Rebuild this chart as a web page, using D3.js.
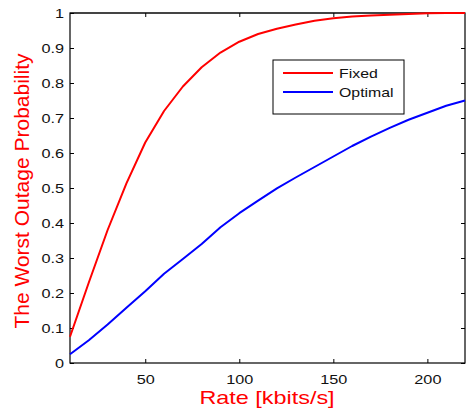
<!DOCTYPE html>
<html>
<head>
<meta charset="utf-8">
<script src="https://cdn.jsdelivr.net/npm/d3@7"></script>
<style>
  html, body { margin: 0; padding: 0; background: #fff; }
  svg { display: block; font-family: "Liberation Sans", Arial, sans-serif; }
</style>
</head>
<body>
<svg id="chart" width="467" height="412"></svg>
<script>
// Rate grid (kbits/s)
const rates = [10, 20, 30, 40, 50, 60, 70, 80, 90, 100, 110, 120, 130, 140, 150, 160, 170, 180, 190, 200, 210, 220];
// Worst outage probability, fixed allocation
const fixedOutage = [0.075, 0.23, 0.38, 0.513, 0.63, 0.72, 0.79, 0.845, 0.887, 0.918, 0.94, 0.955, 0.967, 0.978, 0.985, 0.99, 0.993, 0.995, 0.997, 0.999, 1.0, 1.0];
// Worst outage probability, optimal allocation
const optimalOutage = [0.025, 0.065, 0.11, 0.158, 0.205, 0.255, 0.297, 0.34, 0.388, 0.428, 0.464, 0.499, 0.53, 0.56, 0.59, 0.62, 0.647, 0.672, 0.695, 0.715, 0.735, 0.75];
const xTicks = [50, 100, 150, 200];
const yTicks = [0, 0.1, 0.2, 0.3, 0.4, 0.5, 0.6, 0.7, 0.8, 0.9, 1];
const seriesNames = ["Fixed", "Optimal"];
const seriesColors = ["#ff0000", "#0000ff"];

const svg = d3.select("#chart");
const plot = { left: 70, right: 465, top: 13, bottom: 363 };
const wide = 1.25;   // horizontal widening applied to the label glyphs

const x = d3.scaleLinear().domain([10, 220]).range([plot.left, plot.right]);
const y = d3.scaleLinear().domain([0, 1]).range([plot.bottom, plot.top]);

// Plot frame
svg.append("rect")
  .attr("x", plot.left).attr("y", plot.top)
  .attr("width", plot.right - plot.left).attr("height", plot.bottom - plot.top)
  .attr("fill", "#fff").attr("stroke", "#000").attr("stroke-width", 1.2);
svg.append("line")
  .attr("x1", plot.left).attr("x2", plot.right).attr("y1", plot.top).attr("y2", plot.top)
  .attr("stroke", "#444").attr("stroke-width", 2);

const tickLen = 4;
const fmtY = d => d === 0 ? "0" : d === 1 ? "1" : d3.format(".1f")(d);

// Bottom axis with labels, ticks pointing inward
const gx = svg.append("g").attr("transform", `translate(0,${plot.bottom})`)
  .call(d3.axisBottom(x).tickValues(xTicks).tickSizeInner(-tickLen).tickSizeOuter(0).tickPadding(12));
// Left axis with labels
const gy = svg.append("g").attr("transform", `translate(${plot.left},0)`)
  .call(d3.axisLeft(y).tickValues(yTicks).tickFormat(fmtY).tickSizeInner(-tickLen).tickSizeOuter(0));
// Mirrored ticks on top and right
const gxt = svg.append("g").attr("transform", `translate(0,${plot.top})`)
  .call(d3.axisTop(x).tickValues(xTicks).tickSizeInner(-tickLen).tickSizeOuter(0).tickFormat(""));
const gyr = svg.append("g").attr("transform", `translate(${plot.right},0)`)
  .call(d3.axisRight(y).tickValues(yTicks).tickSizeInner(-tickLen).tickSizeOuter(0).tickFormat(""));

[gx, gy, gxt, gyr].forEach(g => {
  g.select(".domain").remove();
  g.selectAll(".tick line").attr("stroke", "#000").attr("stroke-width", 1);
  g.selectAll(".tick text").attr("fill", "#111").attr("font-size", 13)
    .attr("font-family", "'Liberation Sans', Arial, sans-serif")
    .attr("transform", `scale(${wide},1)`);
});
// keep the left labels' right edge 6px from the axis after widening
gy.selectAll(".tick text").attr("x", -6 / wide);

// Curves
const line = d3.line().x((d, i) => x(rates[i])).y(d => y(d));
[fixedOutage, optimalOutage].forEach((vals, k) => {
  svg.append("path")
    .datum(vals)
    .attr("d", line)
    .attr("fill", "none")
    .attr("stroke", seriesColors[k])
    .attr("stroke-width", 2)
    .attr("stroke-linejoin", "round");
});

// Legend
const lg = svg.append("g").attr("transform", "translate(273,60)");
lg.append("rect").attr("width", 131).attr("height", 54)
  .attr("fill", "#fff").attr("stroke", "#000").attr("stroke-width", 1);
seriesNames.forEach((name, i) => {
  const yy = 13 + i * 19;
  lg.append("line").attr("x1", 10).attr("x2", 60).attr("y1", yy).attr("y2", yy)
    .attr("stroke", seriesColors[i]).attr("stroke-width", 2);
  lg.append("text")
    .attr("transform", `translate(66,${yy + 5}) scale(1.22,1)`)
    .attr("font-size", 13).attr("fill", "#111").text(name);
});

// Axis titles
svg.append("text")
  .attr("transform", `translate(267,403.5) scale(1.3,1)`)
  .attr("text-anchor", "middle").attr("font-size", 18).attr("fill", "#ff0000")
  .text("Rate [kbits/s]");
svg.append("text")
  .attr("transform", `translate(28.5,191) rotate(-90)`)
  .attr("text-anchor", "middle").attr("font-size", 21).attr("fill", "#ff0000")
  .text("The Worst Outage Probability");
</script>
</body>
</html>
